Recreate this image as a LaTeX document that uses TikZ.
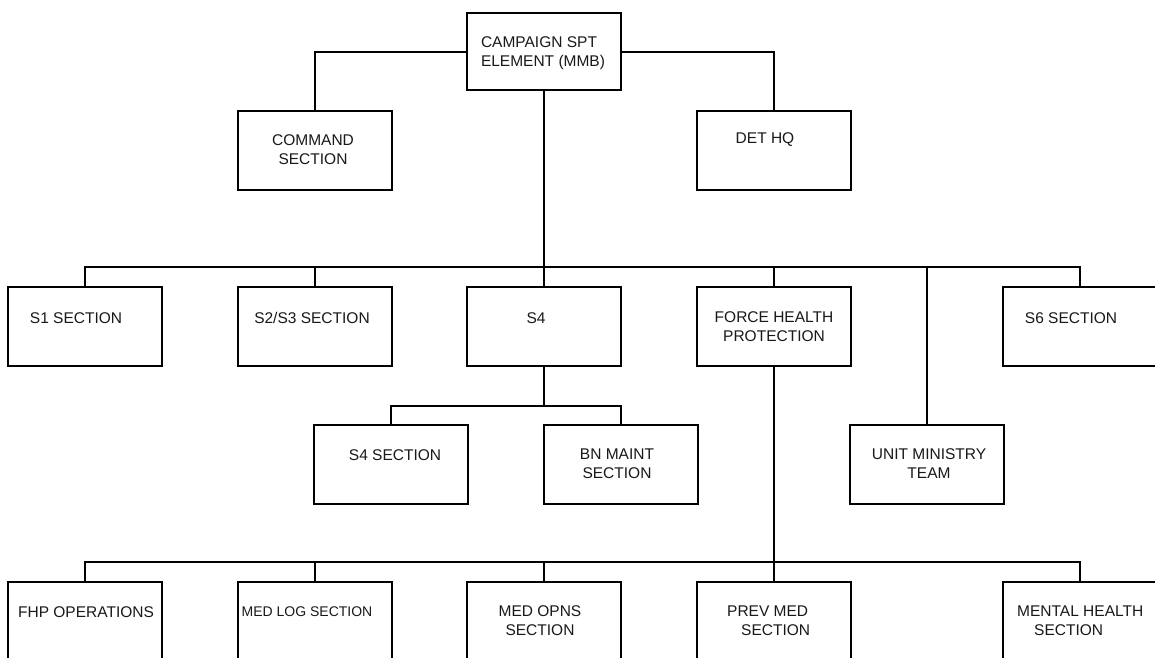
\documentclass[tikz,border=0pt]{standalone}
\usepackage{fontspec}
\setmainfont{Liberation Sans}
\begin{document}
\begin{tikzpicture}[x=1pt,y=-1pt,
  box/.style={draw=black,line width=2pt,minimum width=154pt,minimum height=79pt,inner sep=0pt,fill=white},
  lbl/.style={font=\fontsize{15.5}{19}\selectfont,align=center,inner sep=0pt,text=black!90},
  link/.style={draw=black,line width=2pt}]
\clip (0,0) rectangle (1155,657);
\useasboundingbox (0,0) rectangle (1155,657);
% boxes
\node[box,minimum height=77pt] (top) at (544,51.5) {};
\node[box] (cmd) at (315,150) {};
\node[box] (det) at (773.5,150) {};
\node[box] (s1) at (85,326.5) {};
\node[box] (s23) at (315,326.5) {};
\node[box] (s4) at (544,326.5) {};
\node[box] (fhp) at (773.5,326.5) {};
\node[box] (s6) at (1080,326.5) {};
\node[box] (umt) at (927,464) {};
\node[box] (s4s) at (391,464) {};
\node[box] (bn) at (621,464) {};
\node[box] (fops) at (85,621.5) {};
\node[box] (mlog) at (315,621.5) {};
\node[box] (mops) at (544,621.5) {};
\node[box] (prev) at (773.5,621.5) {};
\node[box] (ment) at (1080,621.5) {};
% labels
\node[lbl,align=left] (topT) at (543,53) {CAMPAIGN SPT\\ELEMENT (MMB)};
\node[lbl] (cmdT) at (313,150) {COMMAND\\SECTION};
\node[lbl] (detT) at (765,140) {DET HQ};
\node[lbl] (s1T) at (76,318) {S1 SECTION};
\node[lbl] (s23T) at (312,318) {S2/S3 SECTION};
\node[lbl] (s4T) at (536,318) {S4};
\node[lbl] (fhpT) at (774,327) {FORCE HEALTH\\PROTECTION};
\node[lbl] (s6T) at (1071,318) {S6 SECTION};
\node[lbl] (umtT) at (929,464) {UNIT MINISTRY\\TEAM};
\node[lbl] (s4sT) at (395,455) {S4 SECTION};
\node[lbl] (bnT) at (617,464) {BN MAINT\\SECTION};
\node[lbl] (fopsT) at (86,612) {FHP OPERATIONS};
\node[lbl,font=\fontsize{14}{19}\selectfont] (mlogT) at (307,612) {MED LOG SECTION};
\node[lbl] (mopsT) at (540,621) {MED OPNS\\SECTION};
\node[lbl,align=left,anchor=west] (prevT) at (727,621) {PREV MED\\\hspace*{14pt}SECTION};
\node[lbl,align=left,anchor=west] (mentT) at (1017,621) {MENTAL HEALTH\\\hspace*{17pt}SECTION};
% connectors
\coordinate (b1) at (544,267);
\coordinate (b2) at (544,406);
\coordinate (b3) at (773.5,562);
\draw[link] (top.west) -| (cmd.north);
\draw[link] (top.east) -| (det.north);
\draw[link] (top.south) -- (b1);
\draw[link] (s1.north) |- (b1) -| (s6.north);
\draw[link] (s23.north) -- (s23.north |- b1);
\draw[link] (s4.north) -- (b1);
\draw[link] (fhp.north) -- (fhp.north |- b1);
\draw[link] (umt.north) -- (umt.north |- b1);
\draw[link] (s4.south) -- (b2);
\draw[link] (s4s.north) |- (b2) -| (bn.north);
\draw[link] (fhp.south) -- (b3);
\draw[link] (fops.north) |- (b3) -| (ment.north);
\draw[link] (mlog.north) -- (mlog.north |- b3);
\draw[link] (mops.north) -- (mops.north |- b3);
\draw[link] (prev.north) -- (b3);
\end{tikzpicture}
\end{document}
